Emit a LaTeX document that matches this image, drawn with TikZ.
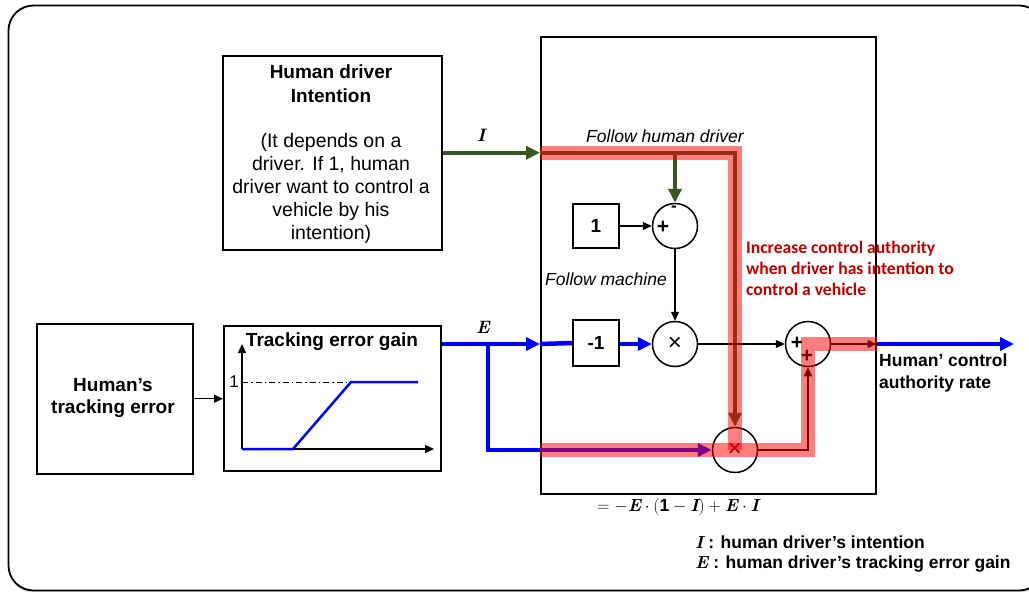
\documentclass[tikz,border=0pt]{standalone}
\usepackage{fontspec}
\setmainfont{Liberation Sans}
\newfontfamily\calfont{Carlito}
\newfontfamily\lmserif{Latin Modern Roman}
\usetikzlibrary{arrows.meta}
\definecolor{sigblue}{RGB}{0,0,255}
\definecolor{intgreen}{RGB}{56,87,35}
\definecolor{notered}{RGB}{192,0,0}
\newcommand{\setfs}[2]{\fontsize{#1}{#2}\selectfont}
\newcommand{\var}[1]{\mbox{\lmserif\bfseries\itshape #1}}

\begin{document}
\begin{tikzpicture}[x=1pt,y=-1pt,
  box/.style={draw,line width=1.5pt,inner sep=0pt,anchor=north west},
  sumnode/.style={draw,line width=1.5pt,circle,minimum size=45pt,inner sep=0pt},
  arr/.style={line width=1.3pt,-{Triangle[length=9pt,width=8pt]}},
  bluel/.style={line width=4.5pt,draw=sigblue},
  greenl/.style={line width=4.5pt,draw=intgreen},
  bigtip/.style={-{Triangle[length=14pt,width=13pt]}},
  hl/.style={line width=14.5pt,draw=red,draw opacity=0.5},
  lbl/.style={inner sep=0pt},
  sign/.style={inner sep=0pt,font=\setfs{21}{22}\bfseries},
]
\useasboundingbox (0,0) rectangle (1029,592);
\begin{scope}
\clip (0,0) rectangle (1029,592);
% outer frame with a faint shadow
\draw[line width=3pt,black!12,rounded corners=25pt] (10,7) rectangle (1046,592);
\draw[line width=1.8pt,rounded corners=25pt,fill=white] (8.5,5.5) rectangle (1044,590.5);
\end{scope}

% ---- blocks
\node[box,minimum width=219pt,minimum height=194pt] (intent) at (222,55) {};
\node[box,minimum width=156pt,minimum height=150pt] (track) at (36,323) {};
\node[box,minimum width=217pt,minimum height=145pt] (gain) at (223,325) {};
\node[box,minimum width=335pt,minimum height=457pt] (big) at (540,36) {};
\node[box,minimum width=46pt,minimum height=44pt,anchor=center,font=\setfs{19}{23}\bfseries] (one) at (596,226) {1};
\node[box,minimum width=46pt,minimum height=46pt,anchor=center,font=\setfs{19}{23}\bfseries] (mone) at (596,343) {-1};
\node[sumnode] (s1) at (675,226) {};
\node[sumnode] (x1) at (675,344) {};
\node[sumnode] (x2) at (735,450) {};
\node[sumnode] (s2) at (808,344) {};

% ---- texts of the blocks
\node[lbl,align=center,font=\setfs{19}{24}\bfseries] at (331,84) {Human driver\\Intention};
\node[lbl,align=center,font=\setfs{19.5}{23}] at (331,188) {(It depends on a\\driver. If 1, human\\driver want to control a\\vehicle by his\\intention)};
\node[lbl,align=center,font=\setfs{19}{22}\bfseries] at (113,398) {Human’s\\tracking error};
\node[lbl,font=\setfs{19}{23}\bfseries] at (332,342) {Tracking error gain};

% ---- gain curve inside the tracking error gain block
\draw[line width=1.3pt,-{Triangle[length=9pt,width=8pt]}] (242,449) -- (242,344);
\draw[line width=1.3pt,-{Triangle[length=9pt,width=8pt]}] (242,449) -- (434,449);
\draw[line width=1pt,dash pattern=on 6pt off 3pt on 1.5pt off 3pt] (242,382) -- (352,382);
\node[lbl,font=\setfs{17}{20}] at (234,382) {1};
\draw[sigblue,line width=2.5pt,line join=round] (242,449) -- (293,449) -- (351,382) -- (418,382);

% ---- connectors
\coordinate (Ipt) at (intent.east -| big.west);
\coordinate (Eout) at (x1 -| gain.east);
\coordinate (Ein) at (x1 -| big.west);
\coordinate (Eb) at (488,344);
\coordinate (Rout) at (s2 -| big.east);
\coordinate (Final) at (1014,344);

\draw[arr] (track.east) -- (track.east -| gain.west);
\draw[greenl,bigtip] (intent.east) -- (Ipt);
\draw[greenl,bigtip] (Ipt) -| (x2.north);
\draw[greenl,bigtip] (s1.north |- Ipt) -- (s1.north);
\draw[arr] (one.east) -- (one.east -| s1.west);
\draw[arr] (s1.south) -- (x1.north);
\draw[bluel,bigtip] (Eout) -- (Ein);
\draw[bluel] (Ein) -- (mone.west);
\draw[bluel,bigtip] (mone.east |- x1) -- (x1.west);
\draw[bluel,bigtip] (Eb) |- (x2.west);
\draw[arr] (x1.east) -- (s2.west);
\draw[arr] (x2.east) -| (s2.south);
\draw[arr] (s2.east) -- (Rout);
\draw[bluel,bigtip] (Rout) -- (Final);

% signs in the summing and product junctions
\node[sign] at (663,227) {+};
\node[sign,font=\setfs{17}{20}\bfseries] at (674,209) {-};
\node[lbl,font=\setfs{24}{26}] at (675,344) {×};
\node[lbl,font=\setfs{24}{26}] at (735,450) {×};
\node[sign] at (797,343) {+};
\node[sign] at (807,356) {+};

% ---- highlighted signal path
\draw[hl] (Ipt) -| (x2.center);
\draw[hl] (x2 -| big.west) -| (s2.center) -- (Rout);

% ---- labels
\node[lbl,font=\setfs{18}{20}] (Ilbl) at (481,135) {\var{I}};
\node[lbl,font=\setfs{18}{20}] (Elbl) at (483,327) {\var{E}};
\node[lbl,font=\setfs{17.5}{20}\itshape] (fhd) at (665,136) {Follow human driver};
\node[lbl,font=\setfs{17.5}{20}\itshape] (fm) at (606,279) {Follow machine};
\node[lbl,anchor=north west,align=left,text=notered,font=\calfont\setfs{17.6}{21}\bfseries] (note) at (746,241)
  {Increase control authority\\when driver has intention to\\control a vehicle};
\node[lbl,anchor=north west,align=left,font=\setfs{17.5}{22}\bfseries] (outlbl) at (879,354)
  {Human’ control\\authority rate};
\node[lbl,font=\setfs{17.5}{20}] (formula) at (678,507)
  {$=-\var{E}\cdot(\mathbf{1}-\var{I})+\var{E}\cdot\var{I}$};
\node[lbl,anchor=west,font=\setfs{17.5}{20}\bfseries] (leg1) at (695,542) {\var{I} : human driver’s intention};
\node[lbl,anchor=west,font=\setfs{17.5}{20}\bfseries] (leg2) at (695,564) {\var{E} : human driver’s tracking error gain};
\end{tikzpicture}
\end{document}
